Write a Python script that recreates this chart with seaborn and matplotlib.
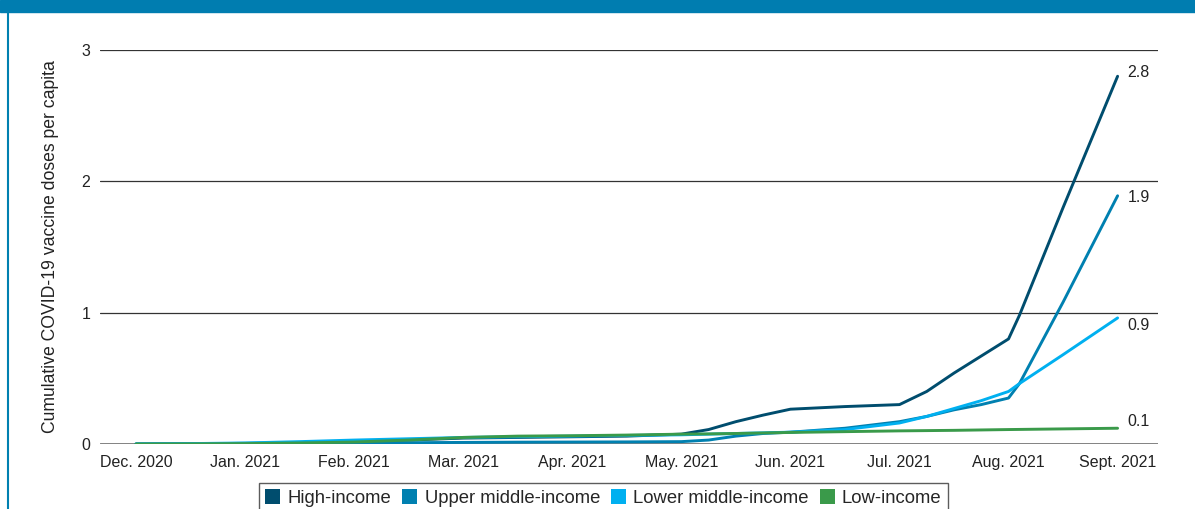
import pandas as pd
import numpy as np
import matplotlib.pyplot as plt
import seaborn as sns
from matplotlib.patches import Patch, Rectangle
from matplotlib.lines import Line2D

# data (months since Dec. 2020)
months = [0, 0.5, 1, 1.5, 2, 2.5, 3, 3.5, 4, 4.5, 5, 5.25, 5.5, 5.75, 6, 6.5,
          7, 7.25, 7.5, 7.75, 8, 8.1, 8.5, 9]
month_labels = ['Dec. 2020', 'Jan. 2021', 'Feb. 2021', 'Mar. 2021', 'Apr. 2021',
                'May. 2021', 'Jun. 2021', 'Jul. 2021', 'Aug. 2021', 'Sept. 2021']

high_income = [0, 0.002, 0.005, 0.01, 0.02, 0.03, 0.045, 0.05, 0.055, 0.06, 0.075,
               0.11, 0.17, 0.22, 0.265, 0.285, 0.30, 0.40, 0.54, 0.67, 0.80, 0.98, 1.80, 2.80]
upper_middle = [0, 0.001, 0.003, 0.005, 0.008, 0.01, 0.012, 0.014, 0.015, 0.016, 0.018,
                0.03, 0.06, 0.08, 0.09, 0.12, 0.17, 0.21, 0.26, 0.30, 0.35, 0.46, 1.08, 1.89]
lower_middle = [0, 0.003, 0.008, 0.018, 0.03, 0.04, 0.05, 0.055, 0.06, 0.065, 0.07,
                0.075, 0.08, 0.085, 0.09, 0.11, 0.16, 0.21, 0.27, 0.33, 0.40, 0.46, 0.68, 0.96]
low_income = [0, 0.001, 0.003, 0.008, 0.015, 0.03, 0.05, 0.06, 0.063, 0.068, 0.075,
              0.077, 0.08, 0.084, 0.088, 0.094, 0.10, 0.102, 0.104, 0.107, 0.11, 0.111, 0.115, 0.12]
end_labels = ['2.8', '1.9', '0.9', '0.1']
label_y = [2.83, 1.88, 0.90, 0.17]

groups = ['High-income', 'Upper middle-income', 'Lower middle-income', 'Low-income']
colors = ['#004d6e', '#0080b0', '#00b0f0', '#3a9a4a']

df = pd.DataFrame({'month': months * 4,
                   'value': high_income + upper_middle + lower_middle + low_income,
                   'group': np.repeat(groups, len(months))})

sns.set_style('white')
plt.rcParams['font.family'] = ['Liberation Sans', 'DejaVu Sans']

fig = plt.figure(figsize=(11.95, 5.09), dpi=100)
ax = fig.add_axes([0.0837, 0.1277, 0.969 - 0.0837, 0.9018 - 0.1277])

# grid
for v in [1, 2, 3]:
    ax.axhline(v, color='#333333', lw=0.9, zorder=0)
ax.axhline(0, color='#777777', lw=2, zorder=0)

sns.lineplot(data=df, x='month', y='value', hue='group', palette=dict(zip(groups, colors)),
             lw=2.1, legend=False, ax=ax)

for ly, lab in zip(label_y, end_labels):
    ax.text(months[-1] + 0.09, ly, lab, fontsize=11.5, color='#222222', va='center')

ax.set_xlim(-0.33, 9.37)
ax.set_ylim(0, 3)
ax.set_xticks(range(len(month_labels)))
ax.set_xticklabels(month_labels, fontsize=11.5, color='#222222')
ax.set_yticks([0, 1, 2, 3])
ax.set_yticklabels(['0', '1', '2', '3'], fontsize=11.5, color='#222222')
ax.tick_params(axis='x', length=0, pad=8)
ax.tick_params(axis='y', length=0, pad=7)
ax.set_xlabel('')
ax.set_ylabel('Cumulative COVID-19 vaccine doses per capita', fontsize=12.7, color='#222222', labelpad=16)
sns.despine(ax=ax, left=True, bottom=True)

# banner and border
fig.patches.append(Rectangle((0, 1 - 12 / 509), 1, 12 / 509, transform=fig.transFigure,
                             color='#007db0', zorder=0))
fig.lines.append(Line2D([8 / 1195, 8 / 1195], [0, 1 - 12 / 509], transform=fig.transFigure,
                        color='#0080b0', lw=1.5))

handles = [Patch(facecolor=c, edgecolor='none') for c in colors]
leg = fig.legend(handles, groups, loc='upper center', bbox_to_anchor=(0.505, 1 - 483 / 509),
                 ncol=4, frameon=True, fancybox=False, fontsize=13.3, handlelength=0.8,
                 handleheight=0.8, handletextpad=0.4, columnspacing=0.6, borderpad=0.35,
                 borderaxespad=0)
leg.get_frame().set_edgecolor('#333333')
leg.get_frame().set_linewidth(1)

fig.savefig('out.png', dpi=100)
